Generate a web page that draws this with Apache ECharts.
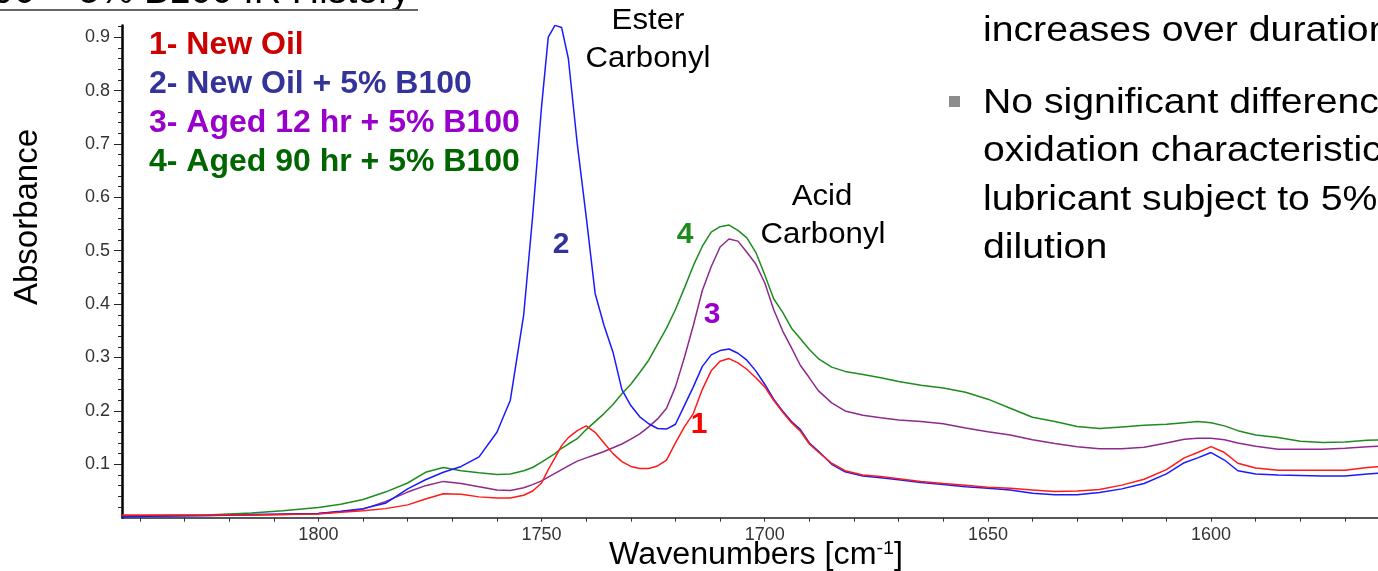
<!DOCTYPE html>
<html>
<head>
<meta charset="utf-8">
<title>B100 IR History</title>
<script src="https://cdn.jsdelivr.net/npm/echarts@6/dist/echarts.min.js"></script>
<style>
  html, body { margin: 0; padding: 0; background: #ffffff; }
  #chart { width: 1378px; height: 571px; }
</style>
</head>
<body>
<div id="chart"></div>
<script>
// wavenumbers (cm-1)
const wavenumbers = [
  1844, 1835, 1825, 1815, 1808, 1800, 1795, 1790, 1785, 1780,
  1776, 1772, 1768, 1764, 1760, 1757, 1754, 1752, 1750, 1748.5,
  1747, 1745.5, 1744, 1742, 1740, 1738, 1736, 1734, 1732, 1730,
  1728, 1726, 1724, 1722, 1720, 1718, 1716, 1714, 1712, 1710,
  1708, 1706, 1704, 1702, 1700, 1698, 1696, 1694, 1692, 1690,
  1688, 1685, 1682, 1678, 1674, 1670, 1665, 1660, 1655, 1650,
  1645, 1640, 1635, 1630, 1625, 1620, 1615, 1610, 1606, 1603,
  1600, 1597, 1594, 1590, 1585, 1580, 1575, 1570, 1565, 1560,
];

// 1- New Oil
const absNewOil = [
  0.005, 0.005, 0.005, 0.005, 0.006, 0.007, 0.01, 0.013, 0.017, 0.024,
  0.035, 0.045, 0.044, 0.039, 0.037, 0.037, 0.042, 0.05, 0.065, 0.09,
  0.112, 0.135, 0.15, 0.163, 0.172, 0.16, 0.14, 0.12, 0.105, 0.096,
  0.092, 0.092, 0.097, 0.108, 0.14, 0.17, 0.195, 0.24, 0.275, 0.293,
  0.298, 0.29, 0.278, 0.262, 0.245, 0.22, 0.198, 0.178, 0.162, 0.138,
  0.123, 0.102, 0.088, 0.08, 0.077, 0.073, 0.068, 0.064, 0.061, 0.057,
  0.055, 0.052, 0.049, 0.05, 0.053, 0.061, 0.072, 0.09, 0.112, 0.122,
  0.133, 0.122, 0.102, 0.093, 0.089, 0.089, 0.089, 0.089, 0.094, 0.097,
];

// 2- New Oil + 5% B100
const absNewOilB100 = [
  0.002, 0.003, 0.004, 0.006, 0.007, 0.008, 0.012, 0.017, 0.027, 0.054,
  0.071, 0.085, 0.096, 0.114, 0.16, 0.22, 0.38, 0.564, 0.77, 0.9,
  0.922, 0.918, 0.86, 0.7, 0.564, 0.42, 0.36, 0.31, 0.24, 0.21,
  0.189, 0.176, 0.167, 0.166, 0.175, 0.21, 0.245, 0.283, 0.305, 0.313,
  0.316, 0.308, 0.295, 0.275, 0.25, 0.222, 0.2, 0.18, 0.165, 0.14,
  0.125, 0.1, 0.086, 0.078, 0.075, 0.071, 0.066, 0.062, 0.058, 0.055,
  0.052, 0.046, 0.043, 0.043, 0.047, 0.054, 0.064, 0.082, 0.103, 0.112,
  0.122, 0.108, 0.088, 0.082, 0.08, 0.079, 0.078, 0.078, 0.082, 0.085,
];

// 3- Aged 12 hr + 5% B100
const absAged12 = [
  0.003, 0.003, 0.004, 0.005, 0.006, 0.008, 0.011, 0.016, 0.03, 0.048,
  0.06, 0.068, 0.064, 0.058, 0.052, 0.051, 0.056, 0.062, 0.069, 0.076,
  0.083, 0.09, 0.097, 0.106, 0.112, 0.118, 0.124, 0.131, 0.138, 0.147,
  0.157, 0.17, 0.185, 0.205, 0.245, 0.3, 0.36, 0.425, 0.47, 0.507,
  0.522, 0.518, 0.497, 0.475, 0.44, 0.39, 0.35, 0.318, 0.285, 0.262,
  0.238, 0.215, 0.2, 0.192, 0.187, 0.183, 0.18, 0.176, 0.168, 0.161,
  0.155, 0.146, 0.139, 0.133, 0.129, 0.129, 0.132, 0.14, 0.147, 0.149,
  0.149, 0.146, 0.14, 0.134, 0.128, 0.128, 0.128, 0.13, 0.133, 0.135,
];

// 4- Aged 90 hr + 5% B100
const absAged90 = [
  0.003, 0.004, 0.005, 0.009, 0.013, 0.019, 0.025, 0.034, 0.048, 0.065,
  0.085, 0.094, 0.088, 0.084, 0.081, 0.082, 0.088, 0.094, 0.104, 0.112,
  0.12, 0.13, 0.138, 0.148, 0.165, 0.18, 0.195, 0.212, 0.232, 0.25,
  0.272, 0.295, 0.325, 0.355, 0.39, 0.43, 0.472, 0.508, 0.535, 0.545,
  0.548, 0.538, 0.524, 0.497, 0.455, 0.41, 0.385, 0.355, 0.335, 0.315,
  0.298, 0.282, 0.274, 0.268, 0.262, 0.255, 0.248, 0.243, 0.235, 0.222,
  0.205, 0.188, 0.18, 0.171, 0.167, 0.17, 0.173, 0.175, 0.178, 0.18,
  0.178, 0.172, 0.163, 0.155, 0.15, 0.143, 0.141, 0.142, 0.145, 0.146,
];

// axis ticks / labels
const xLabelValues = [1800, 1750, 1700, 1650, 1600];
const xTickValues = [
  1840, 1830, 1820, 1810, 1800, 1790, 1780, 1770, 1760, 1750,
  1740, 1730, 1720, 1710, 1700, 1690, 1680, 1670, 1660, 1650,
  1640, 1630, 1620, 1610, 1600, 1590, 1580, 1570,
];
const yLabelValues = [0.1, 0.2, 0.3, 0.4, 0.5, 0.6, 0.7, 0.8, 0.9];
const yMinorValues = [
  0.02, 0.04, 0.06, 0.08, 0.12, 0.14, 0.16, 0.18, 0.22, 0.24, 0.26, 0.28,
  0.32, 0.34, 0.36, 0.38, 0.42, 0.44, 0.46, 0.48, 0.52, 0.54, 0.56, 0.58,
  0.62, 0.64, 0.66, 0.68, 0.72, 0.74, 0.76, 0.78, 0.82, 0.84, 0.86, 0.88,
  0.92,
];

const FONT = "'Liberation Sans', Arial, sans-serif";

const pairs = (vals) => wavenumbers.map((w, i) => [w, vals[i]]);

const chartDom = document.getElementById("chart");
const myChart = echarts.init(chartDom, null, { renderer: "canvas" });

const seriesDefs = [
  { name: "4- Aged 90 hr + 5% B100", data: absAged90, line: "#1e8c1e", text: "#006600" },
  { name: "3- Aged 12 hr + 5% B100", data: absAged12, line: "#8e2a8e", text: "#9900cc" },
  { name: "2- New Oil + 5% B100", data: absNewOilB100, line: "#1a1aff", text: "#333399" },
  { name: "1- New Oil", data: absNewOil, line: "#ff1a1a", text: "#cc0000" },
];

// slide text is a bit wider than the font, so stretch it horizontally
const slideText = (text, x, y, size, opts = {}) => ({
  type: "text",
  x: x,
  y: y,
  scaleX: opts.scaleX || 1,
  style: {
    text: text,
    x: 0,
    y: 0,
    textAlign: opts.align || "left",
    textVerticalAlign: "middle",
    font: (opts.bold ? "bold " : "") + size + "px " + FONT,
    fill: opts.color || "#000",
  },
});

const option = {
  animation: false,
  backgroundColor: "#ffffff",
  grid: {
    left: 122,
    right: 0,
    top: 25.4,
    bottom: 53.3,
  },
  legend: {
    orient: "vertical",
    left: 139,
    top: 24,
    itemWidth: 0,
    itemHeight: 32,
    itemGap: 7,
    icon: "rect",
    selectedMode: false,
    itemStyle: { opacity: 0 },
    lineStyle: { opacity: 0 },
    textStyle: {
      fontFamily: FONT,
      fontSize: 32,
      fontWeight: "bold",
    },
    data: seriesDefs
      .slice()
      .reverse()
      .map((s) => ({ name: s.name, textStyle: { color: s.text } })),
  },
  xAxis: {
    type: "value",
    inverse: true,
    min: 1562.6,
    max: 1844,
    splitLine: { show: false },
    axisLine: { lineStyle: { color: "#222", width: 1.5 } },
    axisTick: {
      customValues: xTickValues,
      length: 4,
      lineStyle: { color: "#333" },
    },
    axisLabel: {
      customValues: xLabelValues,
      margin: 8,
      formatter: (v) => String(v),
      fontFamily: FONT,
      fontSize: 18,
      color: "#333",
    },
  },
  yAxis: [
    {
      type: "value",
      min: 0,
      max: 0.922,
      splitLine: { show: false },
      axisLine: { show: true, lineStyle: { color: "#000", width: 2.5 } },
      axisTick: {
        customValues: yLabelValues,
        length: 8,
        lineStyle: { color: "#222" },
      },
      axisLabel: {
        customValues: yLabelValues,
        margin: 12,
        formatter: (v) => v.toFixed(1),
        fontFamily: FONT,
        fontSize: 18,
        color: "#333",
      },
    },
    {
      // minor ticks
      type: "value",
      min: 0,
      max: 0.922,
      position: "left",
      splitLine: { show: false },
      axisLine: { show: false },
      axisTick: {
        customValues: yMinorValues,
        length: 4,
        lineStyle: { color: "#222" },
      },
      axisLabel: { show: false },
    },
  ],
  series: seriesDefs.map((s) => ({
    name: s.name,
    type: "line",
    data: pairs(s.data),
    showSymbol: false,
    symbol: "none",
    color: s.line,
    lineStyle: { color: s.line, width: 1.5 },
  })),
  graphic: [
    // slide title, cut off at top
    slideText("Aged 90 + 5% B100 IR History", 410, -7, 38, { align: "right" }),
    {
      type: "line",
      shape: { x1: 0, y1: 10, x2: 418, y2: 10 },
      style: { stroke: "#666", lineWidth: 2 },
    },
    // axis names
    {
      type: "text",
      rotation: Math.PI / 2,
      x: 28,
      y: 217,
      style: {
        text: "Absorbance",
        textAlign: "center",
        textVerticalAlign: "middle",
        font: "33px " + FONT,
        fill: "#000",
      },
    },
    {
      type: "text",
      x: 756,
      y: 555,
      scaleX: 1.04,
      style: {
        text: "{a|Wavenumbers [cm}{s|-1}{a|]}",
        x: 0,
        y: 0,
        textAlign: "center",
        textVerticalAlign: "middle",
        rich: {
          a: { fontFamily: FONT, fontSize: 31, lineHeight: 31, fill: "#000" },
          s: { fontFamily: FONT, fontSize: 19, verticalAlign: "top", fill: "#000" },
        },
      },
    },
    // peak annotations
    slideText("Ester", 648, 21, 30, { align: "center", scaleX: 1.04 }),
    slideText("Carbonyl", 648, 59, 30, { align: "center", scaleX: 1.04 }),
    slideText("Acid", 822, 197, 30, { align: "center", scaleX: 1.04 }),
    slideText("Carbonyl", 823, 235, 30, { align: "center", scaleX: 1.04 }),
    // curve numbers
    slideText("2", 561, 245, 30, { align: "center", bold: true, color: "#333399" }),
    slideText("4", 685, 235, 30, { align: "center", bold: true, color: "#1a8c1a" }),
    slideText("3", 712, 315, 30, { align: "center", bold: true, color: "#9900cc" }),
    slideText("1", 699, 425, 30, { align: "center", bold: true, color: "#ff0000" }),
    // slide bullet text on the right
    slideText("increases over duration", 983, 31, 35, { scaleX: 1.12 }),
    {
      type: "rect",
      shape: { x: 949, y: 96, width: 11, height: 11 },
      style: { fill: "#8c8c8c" },
    },
    slideText("No significant difference", 983, 103, 35, { scaleX: 1.12 }),
    slideText("oxidation characteristics", 983, 151, 35, { scaleX: 1.12 }),
    slideText("lubricant subject to 5%", 983, 200, 35, { scaleX: 1.12 }),
    slideText("dilution", 983, 248, 35, { scaleX: 1.12 }),
  ],
};

myChart.setOption(option);
</script>
</body>
</html>
